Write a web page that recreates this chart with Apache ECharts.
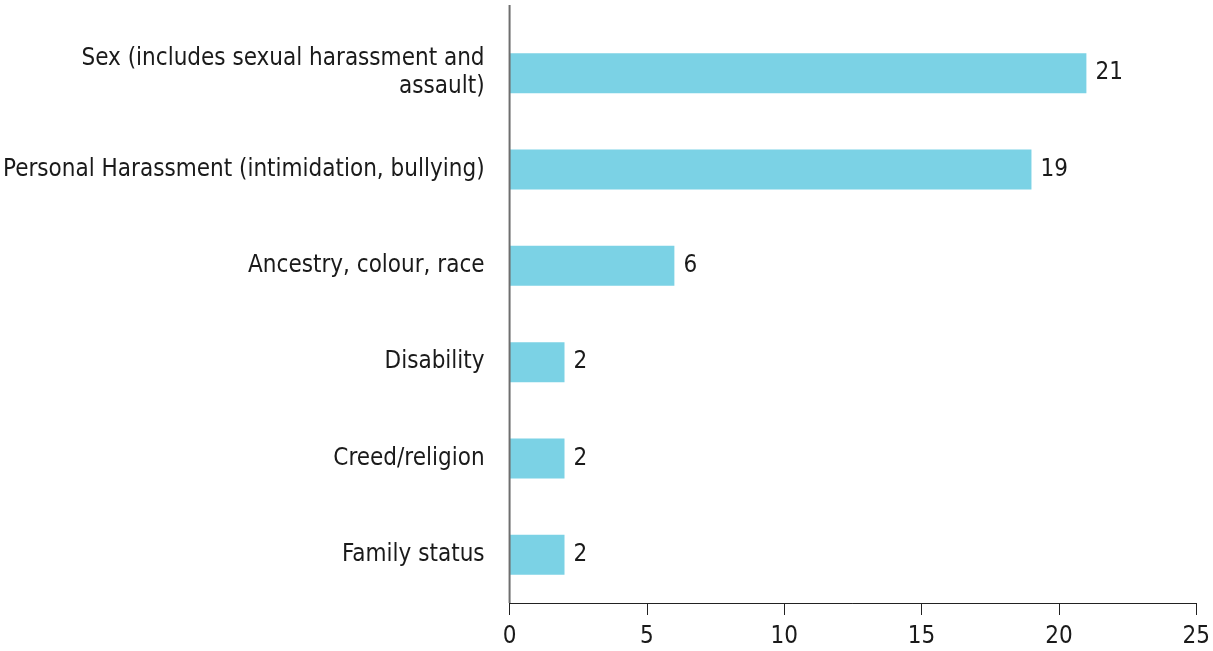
<!DOCTYPE html>
<html>
<head>
<meta charset="utf-8">
<script src="https://cdn.jsdelivr.net/npm/echarts@6/dist/echarts.min.js"></script>
<style>
  html, body { margin: 0; padding: 0; background: #fff; }
  #chart { width: 1213px; height: 651px; }
</style>
</head>
<body>
<div id="chart"></div>
<script>
// Complaint grounds, listed top to bottom
const categories = [
  'Sex (includes sexual harassment and\nassault)',
  'Personal Harassment (intimidation, bullying)',
  'Ancestry, colour, race',
  'Disability',
  'Creed/religion',
  'Family status'
];
const counts = [21, 19, 6, 2, 2, 2];
const xTicks = [0, 5, 10, 15, 20, 25];

const FONT = "'Liberation Sans Narrow', 'DejaVu Sans Condensed', Roboto, sans-serif";
const TEXT = '#1a1a1a';

const chart = echarts.init(document.getElementById('chart'), null, { renderer: 'canvas' });

const gridBox = { left: 509, right: 16, top: 25, bottom: 48 };

chart.setOption({
  animation: false,
  backgroundColor: '#ffffff',
  grid: Object.assign({ containLabel: false }, gridBox),
  xAxis: {
    type: 'value',
    min: xTicks[0],
    max: xTicks[xTicks.length - 1],
    interval: xTicks[1] - xTicks[0],
    axisLine: { show: true, lineStyle: { color: '#222', width: 1 } },
    axisTick: { show: true, inside: false, length: 12, lineStyle: { color: '#222', width: 1 } },
    axisLabel: { color: TEXT, fontFamily: FONT, fontSize: 24, margin: 22 },
    splitLine: { show: false }
  },
  yAxis: {
    type: 'category',
    inverse: true,
    data: categories,
    axisLine: { show: false },
    axisTick: { show: false },
    axisLabel: {
      color: TEXT, fontFamily: FONT, fontSize: 24, lineHeight: 28,
      margin: 25, align: 'right', padding: [4, 0, 0, 0]
    }
  },
  series: [{
    type: 'bar',
    data: counts,
    barWidth: 40,
    itemStyle: { color: '#7bd2e5' },
    label: {
      show: true, position: 'right', distance: 9,
      color: TEXT, fontFamily: FONT, fontSize: 24
    }
  }]
});

// Vertical baseline at zero, running above the plot area
const x0 = chart.convertToPixel({ xAxisIndex: 0 }, 0);
chart.setOption({
  graphic: [{
    type: 'line',
    shape: { x1: x0, y1: 5, x2: x0, y2: 651 - gridBox.bottom },
    style: { stroke: '#6e6e6e', lineWidth: 2 },
    z: 10
  }]
});
</script>
</body>
</html>
